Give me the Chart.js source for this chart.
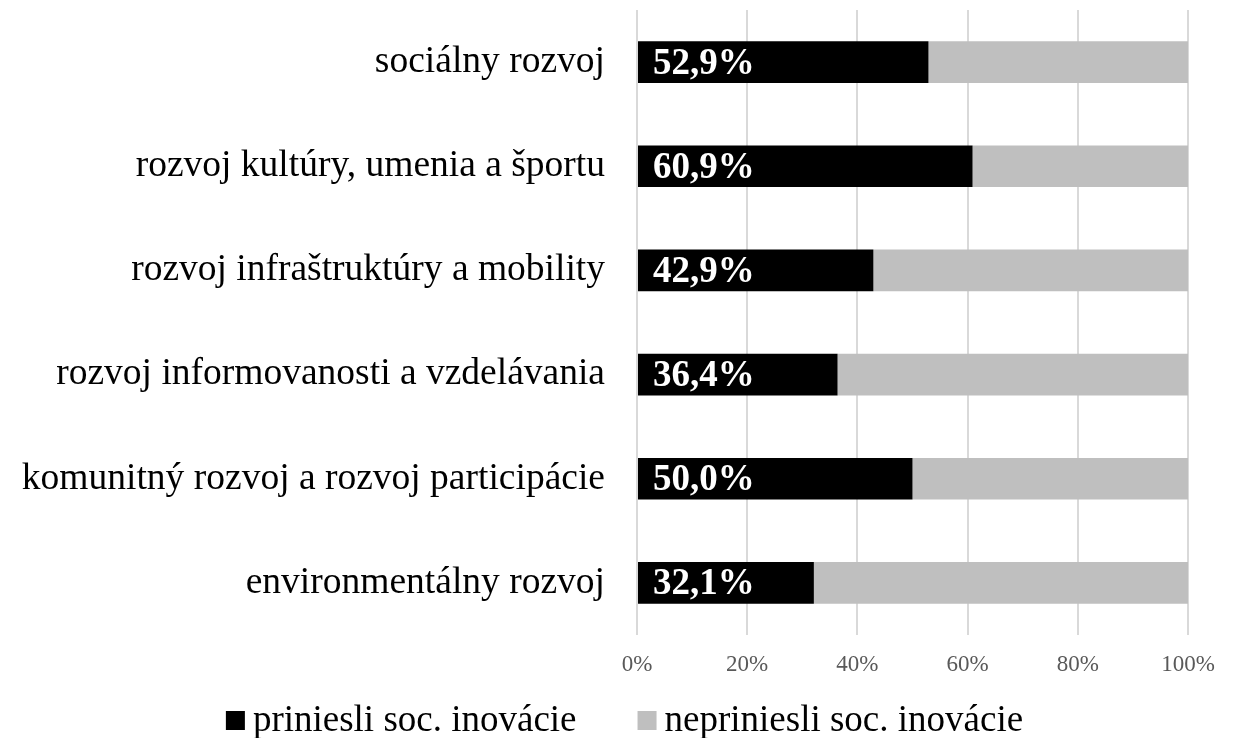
<!DOCTYPE html>
<html lang="sk">
<head>
  <meta charset="UTF-8" />
  <title>Sociálne inovácie podľa oblasti</title>
  <script src="https://cdn.jsdelivr.net/npm/chart.js"></script>
  <style>
    body { margin: 0; background: #fff; }
    #wrap { width: 1237px; height: 738px; }
  </style>
</head>
<body>
  <div id="wrap"><canvas id="chart" width="1237" height="738"></canvas></div>

  <script>
    const categories = [
      'sociálny rozvoj',
      'rozvoj kultúry, umenia a športu',
      'rozvoj infraštruktúry a mobility',
      'rozvoj informovanosti a vzdelávania',
      'komunitný rozvoj a rozvoj participácie',
      'environmentálny rozvoj'
    ];
    const priniesli = [52.9, 60.9, 42.9, 36.4, 50.0, 32.1];
    const nepriniesli = [47.1, 39.1, 57.1, 63.6, 50.0, 67.9];
    const xTicks = [0, 20, 40, 60, 80, 100];

    const serif = '"Liberation Serif", "Times New Roman", serif';

    // white percentage labels at the start of the black bars
    const barLabels = {
      id: 'barLabels',
      afterDatasetsDraw(chart) {
        const ctx = chart.ctx;
        const meta = chart.getDatasetMeta(0);
        ctx.save();
        ctx.fillStyle = '#fff';
        ctx.font = 'bold 37px ' + serif;
        ctx.textAlign = 'left';
        ctx.textBaseline = 'middle';
        meta.data.forEach((bar, i) => {
          const txt = priniesli[i].toFixed(1).replace('.', ',') + '%';
          ctx.fillText(txt, bar.base + 15, bar.y + 2);
        });
        ctx.restore();
      }
    };

    // legend drawn by hand so the square/text spacing matches the original
    const bottomLegend = {
      id: 'bottomLegend',
      afterDraw(chart) {
        const ctx = chart.ctx;
        const sets = chart.data.datasets;
        const box = 19, gap = 8, itemGap = 61;
        ctx.save();
        ctx.font = '37px ' + serif;
        const widths = sets.map(ds => ctx.measureText(ds.label).width);
        let total = 0;
        widths.forEach((w, i) => { total += box + gap + w + (i < widths.length - 1 ? itemGap : 0); });
        let x = chart.width / 2 + 6 - total / 2;
        const baseline = 731;
        sets.forEach((ds, i) => {
          ctx.fillStyle = ds.backgroundColor;
          ctx.fillRect(x, 711, box, box);
          x += box + gap;
          ctx.fillStyle = '#000';
          ctx.textBaseline = 'alphabetic';
          ctx.fillText(ds.label, x, baseline);
          x += widths[i] + itemGap;
        });
        ctx.restore();
      }
    };

    new Chart(document.getElementById('chart'), {
      type: 'bar',
      data: {
        labels: categories,
        datasets: [
          {
            label: 'priniesli soc. inovácie',
            data: priniesli,
            backgroundColor: '#000000',
            barPercentage: 0.8,
            categoryPercentage: 0.5
          },
          {
            label: 'nepriniesli soc. inovácie',
            data: nepriniesli,
            backgroundColor: '#bfbfbf',
            barPercentage: 0.8,
            categoryPercentage: 0.5
          }
        ]
      },
      options: {
        indexAxis: 'y',
        responsive: false,
        animation: false,
        layout: { padding: { top: 10, right: 49, left: 0, bottom: 0 } },
        scales: {
          x: {
            stacked: true,
            min: 0,
            max: 100,
            afterBuildTicks: (scale) => { scale.ticks = xTicks.map(v => ({ value: v })); },
            ticks: {
              callback: v => v + '%',
              color: '#595959',
              font: { family: serif, size: 23 },
              padding: 16
            },
            grid: { color: '#d9d9d9', lineWidth: 2, drawTicks: false },
            border: { display: false },
            afterFit: (scale) => { scale.height = 103; }
          },
          y: {
            stacked: true,
            ticks: {
              color: '#000',
              font: { family: serif, size: 37.5 },
              padding: 32
            },
            grid: { display: false, drawTicks: false },
            border: { display: false },
            afterFit: (scale) => {
              scale.width = 637;
              scale.paddingTop = 0;
              scale.paddingBottom = 0;
            }
          }
        },
        plugins: {
          legend: { display: false },
          tooltip: { enabled: false }
        }
      },
      plugins: [barLabels, bottomLegend]
    });
  </script>
</body>
</html>
